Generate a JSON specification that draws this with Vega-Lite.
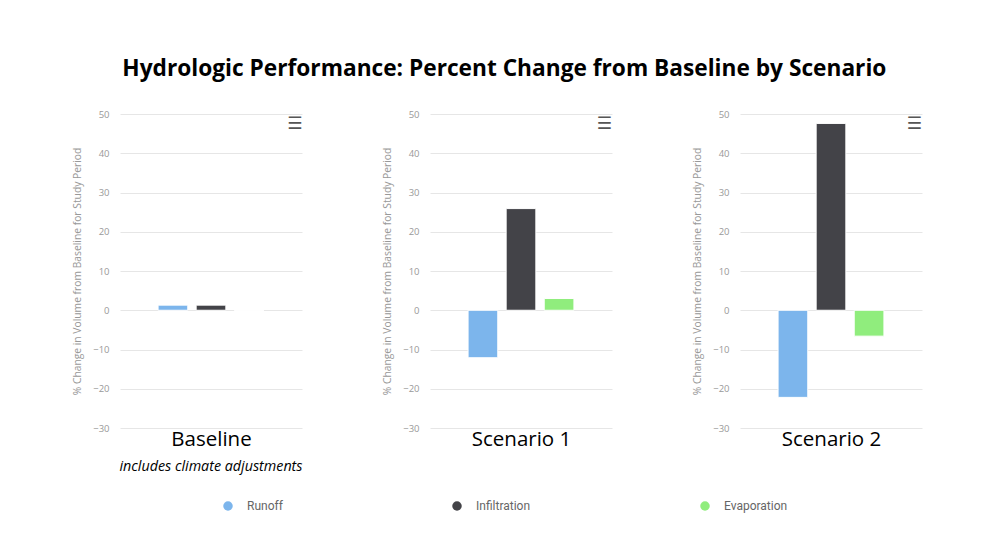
{
  "$schema": "https://vega.github.io/schema/vega-lite/v6.json",
  "background": "white",
  "padding": {"left": 72, "top": 58, "right": 70, "bottom": 30},
  "bounds": "flush",
  "spacing": 128,
  "title": {
    "text": "Hydrologic Performance: Percent Change from Baseline by Scenario",
    "font": "Open Sans",
    "fontSize": 22.7,
    "fontWeight": "bold",
    "color": "#000000",
    "anchor": "middle",
    "dx": 7,
    "offset": 28
  },
  "data": {
    "values": [
      {"scenario": "Baseline", "series": "Runoff", "value": 1.3},
      {"scenario": "Baseline", "series": "Infiltration", "value": 1.3},
      {"scenario": "Baseline", "series": "Evaporation", "value": 0},
      {"scenario": "Scenario 1", "series": "Runoff", "value": -12.1},
      {"scenario": "Scenario 1", "series": "Infiltration", "value": 25.9},
      {"scenario": "Scenario 1", "series": "Evaporation", "value": 3.0},
      {"scenario": "Scenario 2", "series": "Runoff", "value": -22.2},
      {"scenario": "Scenario 2", "series": "Infiltration", "value": 47.6},
      {"scenario": "Scenario 2", "series": "Evaporation", "value": -6.6}
    ]
  },
  "config": {
    "view": {"stroke": null},
    "font": "Open Sans",
    "axisY": {
      "values": [-30, -20, -10, 0, 10, 20, 30, 40, 50],
      "domain": false,
      "ticks": false,
      "grid": true,
      "gridColor": "#e6e6e6",
      "gridWidth": 1,
      "labelColor": "#999999",
      "labelFontSize": 9.5,
      "labelPadding": 11,
      "titleColor": "#999999",
      "titleFontSize": 10.3,
      "titleFontWeight": "normal",
      "titlePadding": 10
    },
    "axisX": {
      "labels": false,
      "ticks": false,
      "domain": false,
      "grid": false,
      "titleFontSize": 20.5,
      "titleFontWeight": "normal",
      "titleColor": "#000000",
      "titlePadding": 1
    },
    "title": {"font": "DejaVu Sans"}
  },
  "hconcat": [
    {
      "width": 182,
      "height": 314,
      "title": {"text": "☰", "anchor": "end", "fontSize": 17, "color": "#555555", "offset": -24, "fontWeight": "bold"},
      "layer": [
        {
          "transform": [{"filter": "datum.scenario === 'Baseline'"}],
          "mark": {"type": "bar", "stroke": "white", "strokeWidth": 1},
          "encoding": {
            "x": {"field": "series", "type": "nominal", "sort": ["Runoff", "Infiltration", "Evaporation"], "scale": {"paddingInner": 0.22, "paddingOuter": 1.07}, "axis": {"title": "Baseline"}},
            "y": {"field": "value", "type": "quantitative", "scale": {"domain": [-30, 50], "nice": false}, "axis": {"title": "% Change in Volume from Baseline for Study Period"}},
            "color": {"field": "series", "type": "nominal", "sort": ["Runoff", "Infiltration", "Evaporation"],
              "scale": {"domain": ["Runoff", "Infiltration", "Evaporation"], "range": ["#7cb5ec", "#434348", "#90ed7d"]},
              "legend": {"orient": "none", "legendX": 102, "legendY": 386, "direction": "horizontal", "title": null, "symbolType": "circle", "symbolSize": 90, "symbolStrokeWidth": 0, "labelFontSize": 12, "labelFont": "Roboto", "labelColor": "#666666", "labelOffset": 13, "columnPadding": 168}}
          }
        },
        {
          "data": {"values": [{"note": "includes climate adjustments"}]},
          "mark": {"type": "text", "font": "Open Sans", "fontStyle": "italic", "fontSize": 14.3, "color": "#000000", "baseline": "middle"},
          "encoding": {
            "text": {"field": "note"},
            "y": {"datum": -40}
          }
        }
      ]
    },
    {
      "width": 182,
      "height": 314,
      "title": {"text": "☰", "anchor": "end", "fontSize": 17, "color": "#555555", "offset": -24, "fontWeight": "bold"},
      "transform": [{"filter": "datum.scenario === 'Scenario 1'"}],
      "mark": {"type": "bar", "stroke": "white", "strokeWidth": 1},
      "encoding": {
        "x": {"field": "series", "type": "nominal", "sort": ["Runoff", "Infiltration", "Evaporation"], "scale": {"paddingInner": 0.22, "paddingOuter": 1.07}, "axis": {"title": "Scenario 1"}},
        "y": {"field": "value", "type": "quantitative", "scale": {"domain": [-30, 50], "nice": false}, "axis": {"title": "% Change in Volume from Baseline for Study Period"}},
        "color": {"field": "series", "type": "nominal", "sort": ["Runoff", "Infiltration", "Evaporation"]}
      }
    },
    {
      "width": 182,
      "height": 314,
      "title": {"text": "☰", "anchor": "end", "fontSize": 17, "color": "#555555", "offset": -24, "fontWeight": "bold"},
      "transform": [{"filter": "datum.scenario === 'Scenario 2'"}],
      "mark": {"type": "bar", "stroke": "white", "strokeWidth": 1},
      "encoding": {
        "x": {"field": "series", "type": "nominal", "sort": ["Runoff", "Infiltration", "Evaporation"], "scale": {"paddingInner": 0.22, "paddingOuter": 1.07}, "axis": {"title": "Scenario 2"}},
        "y": {"field": "value", "type": "quantitative", "scale": {"domain": [-30, 50], "nice": false}, "axis": {"title": "% Change in Volume from Baseline for Study Period"}},
        "color": {"field": "series", "type": "nominal", "sort": ["Runoff", "Infiltration", "Evaporation"]}
      }
    }
  ]
}
